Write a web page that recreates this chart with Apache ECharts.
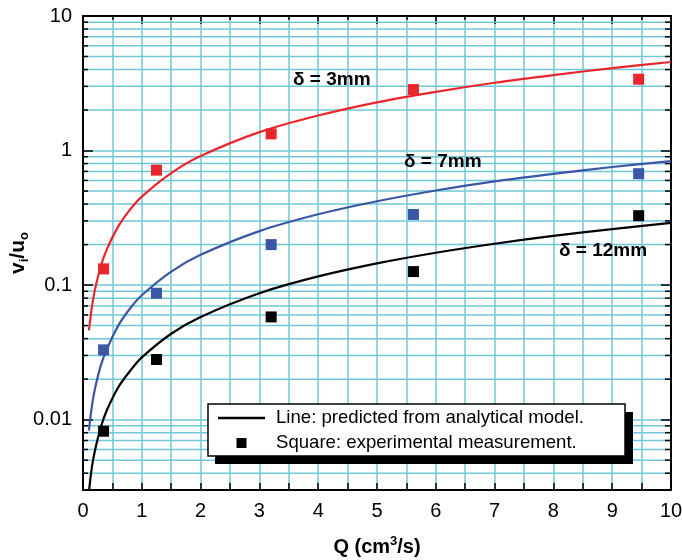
<!DOCTYPE html>
<html>
<head>
<meta charset="utf-8">
<script src="https://cdn.jsdelivr.net/npm/echarts@6/dist/echarts.min.js"></script>
<style>html,body{margin:0;padding:0;background:#fff}#c{width:682px;height:560px}</style>
</head>
<body>
<div id="c"></div>
<script>
// Predicted curves
const qCurve = [0.1, 0.15, 0.2, 0.3, 0.4, 0.6, 0.8, 1, 1.5, 2, 3, 4, 5, 6, 7, 8, 9, 10];
const red3mm   = [0.046, 0.068, 0.091, 0.137, 0.182, 0.273, 0.364, 0.455, 0.68, 0.91, 1.37, 1.82, 2.28, 2.73, 3.19, 3.64, 4.1, 4.55];
const blue7mm  = [0.0083, 0.0125, 0.0167, 0.025, 0.033, 0.05, 0.067, 0.084, 0.126, 0.168, 0.252, 0.336, 0.42, 0.505, 0.59, 0.67, 0.755, 0.835];
const black12mm= [0.0029, 0.0044, 0.0058, 0.0087, 0.0116, 0.0174, 0.023, 0.029, 0.0435, 0.058, 0.087, 0.116, 0.145, 0.174, 0.203, 0.232, 0.261, 0.29];
// Measurements
const qMeas = [0.35, 1.25, 3.2, 5.62, 9.45];
const red3mmMeas   = [0.132, 0.715, 1.33, 2.84, 3.39];
const blue7mmMeas  = [0.033, 0.087, 0.2, 0.335, 0.673];
const black12mmMeas= [0.0082, 0.028, 0.058, 0.126, 0.328];
// Axis ticks
const yMajorTicks = [0.01, 0.1, 1, 10];
const yMinorGrid = [0.004,0.005,0.006,0.007,0.008,0.009,
  0.02,0.03,0.04,0.05,0.06,0.07,0.08,0.09,
  0.2,0.3,0.4,0.5,0.6,0.7,0.8,0.9,
  2,3,4,5,6,7,8,9];
const curveLabels = ['δ = 3mm', 'δ = 7mm', 'δ = 12mm'];
const legendTexts = ['Line: predicted from analytical model.', 'Square: experimental measurement.'];

const FONT = '"Liberation Sans", Arial, Helvetica, sans-serif';
const CYAN = '#6fc8d8';
const RED = '#e8262c', BLUE = '#3a56a5', BLACK = '#000';

const zip = (xs, ys) => xs.map((x, i) => [x, ys[i]]);

const chart = echarts.init(document.getElementById('c'), null, {renderer: 'canvas'});
const gridRect = {left: 83, right: 11, top: 16, bottom: 70};

const yCommon = {
  type: 'log', min: 0.003, max: 10, logBase: 10
};

chart.setOption({
  animation: false,
  backgroundColor: '#fff',
  grid: Object.assign({containLabel: false, outerBoundsMode: 'none'}, gridRect),
  xAxis: [{
    type: 'value', min: 0, max: 10, interval: 1, position: 'bottom',
    axisLine: {show: true, onZero: false, lineStyle: {color: '#000', width: 2}},
    axisTick: {show: true, inside: true, length: 7, lineStyle: {color: '#000', width: 1.5}},
    minorTick: {show: true, splitNumber: 2, length: 7, lineStyle: {color: '#000', width: 1.5}},
    splitLine: {show: true, lineStyle: {color: CYAN, width: 1.5}},
    minorSplitLine: {show: true, lineStyle: {color: CYAN, width: 1.5}},
    axisLabel: {fontFamily: FONT, fontSize: 20, color: '#000', margin: 11},
    name: '{a|Q (cm}{p|3}{a|/s)}', nameLocation: 'middle', nameGap: 45,
    nameTextStyle: {rich: {
      a: {fontFamily: FONT, fontSize: 20, fontWeight: 'bold', color: '#000', lineHeight: 24},
      p: {fontFamily: FONT, fontSize: 13, fontWeight: 'bold', color: '#000', verticalAlign: 'top', lineHeight: 24, padding: [0,0,8,0]}
    }}
  }, {
    type: 'value', min: 0, max: 10, interval: 1, position: 'top',
    axisLine: {show: true, onZero: false, lineStyle: {color: '#000', width: 2}},
    axisTick: {show: true, inside: true, length: 8, lineStyle: {color: '#000', width: 1.5}},
    minorTick: {show: true, splitNumber: 2, length: 4, lineStyle: {color: '#000', width: 1.5}},
    splitLine: {show: false}, axisLabel: {show: false}
  }],
  yAxis: [Object.assign({}, yCommon, {
    position: 'left',
    axisLine: {show: true, onZero: false, lineStyle: {color: '#000', width: 2}},
    axisTick: {show: true, inside: true, length: 10, lineStyle: {color: '#000', width: 1.5}},
    splitLine: {show: true, lineStyle: {color: CYAN, width: 1.5}},
    minorTick: {show: false}, minorSplitLine: {show: false},
    axisLabel: {fontFamily: FONT, fontSize: 20, color: '#000', margin: 11, showMinLabel: false,
      formatter: v => (yMajorTicks.some(t => Math.abs(t - v) / t < 1e-6) ? String(+v.toPrecision(6)) : '')},
    name: '{a|v}{s|i}{a|/u}{s|o}', nameLocation: 'middle', nameGap: 52, nameMoveOverlap: false,
    nameTextStyle: {rich: {
      a: {fontFamily: FONT, fontSize: 21, fontWeight: 'bold', color: '#000', lineHeight: 26},
      s: {fontFamily: FONT, fontSize: 13, fontWeight: 'bold', color: '#000', verticalAlign: 'bottom', lineHeight: 26, padding: [9,0,0,0]}
    }}
  }), Object.assign({}, yCommon, {
    position: 'right',
    axisLine: {show: true, onZero: false, lineStyle: {color: '#000', width: 2}},
    axisTick: {show: true, inside: true, length: 10, lineStyle: {color: '#000', width: 1.5}},
    splitLine: {show: false}, axisLabel: {show: false}
  })],
  series: [{
    type: 'custom', z: 1, silent: true,
    xAxisIndex: 0, yAxisIndex: 0,
    data: yMinorGrid.map(v => [0, v]),
    renderItem: function (params, api) {
      const cs = params.coordSys;
      const y = api.coord([0, api.value(1)])[1];
      return {type: 'group', children: [
        {type: 'line', shape: {x1: cs.x, y1: y, x2: cs.x + cs.width, y2: y}, style: {stroke: CYAN, lineWidth: 1.5}},
        {type: 'line', shape: {x1: cs.x, y1: y, x2: cs.x + 5, y2: y}, style: {stroke: '#000', lineWidth: 1.5}},
        {type: 'line', shape: {x1: cs.x + cs.width - 6, y1: y, x2: cs.x + cs.width, y2: y}, style: {stroke: '#000', lineWidth: 1.5}}
      ]};
    }
  }, {
    name: '3mm', type: 'line', z: 3, data: zip(qCurve, red3mm), smooth: 0.3, showSymbol: false,
    lineStyle: {color: RED, width: 2.2}, clip: true
  }, {
    name: '7mm', type: 'line', z: 3, data: zip(qCurve, blue7mm), smooth: 0.3, showSymbol: false,
    lineStyle: {color: BLUE, width: 2.2}, clip: true
  }, {
    name: '12mm', type: 'line', z: 3, data: zip(qCurve, black12mm), smooth: 0.3, showSymbol: false,
    lineStyle: {color: BLACK, width: 2.2}, clip: true
  }, {
    type: 'scatter', z: 4, data: zip(qMeas, red3mmMeas), symbol: 'rect', symbolSize: 11,
    itemStyle: {color: RED, opacity: 1}
  }, {
    type: 'scatter', z: 4, data: zip(qMeas, blue7mmMeas), symbol: 'rect', symbolSize: 11,
    itemStyle: {color: BLUE, opacity: 1}
  }, {
    type: 'scatter', z: 4, data: zip(qMeas, black12mmMeas), symbol: 'rect', symbolSize: 11,
    itemStyle: {color: BLACK, opacity: 1}
  }],
  graphic: [
    {type: 'text', left: 293, top: 70, z: 10, style: {text: curveLabels[0], font: 'bold 19px ' + FONT, fill: '#000'}},
    {type: 'text', left: 404, top: 152, z: 10, style: {text: curveLabels[1], font: 'bold 19px ' + FONT, fill: '#000'}},
    {type: 'text', left: 559, top: 241, z: 10, style: {text: curveLabels[2], font: 'bold 19px ' + FONT, fill: '#000'}},
    {type: 'rect', z: 10, shape: {x: 215, y: 412, width: 418, height: 52}, style: {fill: '#000'}},
    {type: 'rect', z: 11, shape: {x: 208, y: 404, width: 417, height: 52}, style: {fill: '#fff', stroke: '#000', lineWidth: 1.5}},
    {type: 'line', z: 12, shape: {x1: 218, y1: 418, x2: 265, y2: 418}, style: {stroke: '#000', lineWidth: 2.5}},
    {type: 'rect', z: 12, shape: {x: 236.5, y: 438, width: 10, height: 10}, style: {fill: '#000'}},
    {type: 'text', z: 12, x: 276, y: 418, style: {text: legendTexts[0], font: '18.6px ' + FONT, fill: '#000', verticalAlign: 'middle'}},
    {type: 'text', z: 12, x: 276, y: 443, style: {text: legendTexts[1], font: '18.6px ' + FONT, fill: '#000', verticalAlign: 'middle'}}
  ]
});
</script>
</body>
</html>
